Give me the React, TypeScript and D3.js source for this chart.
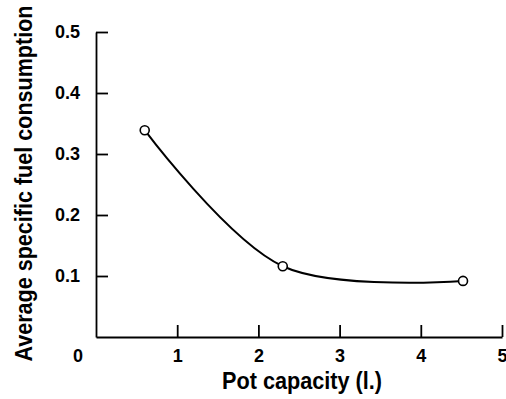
import React, { useEffect, useRef } from 'react';
import * as d3 from 'd3';

// pot capacity (litres) vs average specific fuel consumption
const potCapacity = [0.6, 2.3, 4.52];
const fuelConsumption = [0.339, 0.116, 0.092];
const xTicks = [1, 2, 3, 4, 5];
const yTicks = [0.1, 0.2, 0.3, 0.4, 0.5];
const xTitle = 'Pot capacity (l.)';
const yTitle = 'Average specific fuel consumption';

const W = 506;
const H = 399;
const margin = { top: 32, right: 4, bottom: 62, left: 96 };
const font = '"Liberation Sans", Arial, Helvetica, sans-serif';

const App = () => {
  const ref = useRef<SVGSVGElement>(null);

  useEffect(() => {
    const svg = d3.select(ref.current);
    svg.selectAll('*').remove();

    const x = d3.scaleLinear().domain([0, 5]).range([margin.left, W - margin.right]);
    const y = d3.scaleLinear().domain([0, 0.5]).range([H - margin.bottom, margin.top]);

    const xAxis = d3.axisBottom(x)
      .tickValues(xTicks)
      .tickSizeInner(-12)
      .tickSizeOuter(0)
      .tickPadding(12)
      .tickFormat(d3.format('d'));

    const yAxis = d3.axisLeft(y)
      .tickValues(yTicks)
      .tickSizeInner(-12)
      .tickSizeOuter(0)
      .tickPadding(16)
      .tickFormat(d3.format('.1f'));

    const gx = svg.append('g')
      .attr('transform', `translate(0, ${y(0)})`)
      .call(xAxis);

    const gy = svg.append('g')
      .attr('transform', `translate(${x(0)}, 0)`)
      .call(yAxis);

    [gx, gy].forEach(g => {
      g.selectAll('path, line').attr('stroke', '#000').attr('stroke-width', 1.8);
      g.selectAll('text')
        .attr('fill', '#000')
        .style('font-family', font)
        .style('font-weight', 'bold')
        .style('font-size', '18px');
    });

    // origin label sits below-left of the corner
    svg.append('text')
      .attr('x', x(0) - 18)
      .attr('y', y(0) + 12)
      .attr('dy', '0.71em')
      .attr('text-anchor', 'middle')
      .style('font-family', font)
      .style('font-weight', 'bold')
      .style('font-size', '18px')
      .text('0');

    const pts = potCapacity.map((c, i) => [c, fuelConsumption[i]] as [number, number]);

    const line = d3.line<[number, number]>()
      .x(d => x(d[0]))
      .y(d => y(d[1]))
      .curve(d3.curveCatmullRom.alpha(0.5));

    svg.append('path')
      .datum(pts)
      .attr('d', line)
      .attr('fill', 'none')
      .attr('stroke', '#000')
      .attr('stroke-width', 2);

    svg.selectAll('.pt')
      .data(pts)
      .enter()
      .append('circle')
        .attr('class', 'pt')
        .attr('cx', d => x(d[0]))
        .attr('cy', d => y(d[1]))
        .attr('r', 4.5)
        .attr('fill', '#fff')
        .attr('stroke', '#000')
        .attr('stroke-width', 1.6);

    svg.append('text')
      .attr('x', 302)
      .attr('y', 389)
      .attr('text-anchor', 'middle')
      .attr('textLength', 160)
      .attr('lengthAdjust', 'spacingAndGlyphs')
      .style('font-family', font)
      .style('font-weight', 'bold')
      .style('font-size', '23px')
      .text(xTitle);

    svg.append('text')
      .attr('transform', 'translate(31.5, 183.5) rotate(-90)')
      .attr('text-anchor', 'middle')
      .attr('textLength', 356)
      .attr('lengthAdjust', 'spacingAndGlyphs')
      .style('font-family', font)
      .style('font-weight', 'bold')
      .style('font-size', '23px')
      .text(yTitle);
  });

  return (
    <svg
      ref={ref}
      width={W}
      height={H}
      style={{ position: 'absolute', left: 0, top: 0, background: '#fff' }}
    />
  );
};

export default App;
